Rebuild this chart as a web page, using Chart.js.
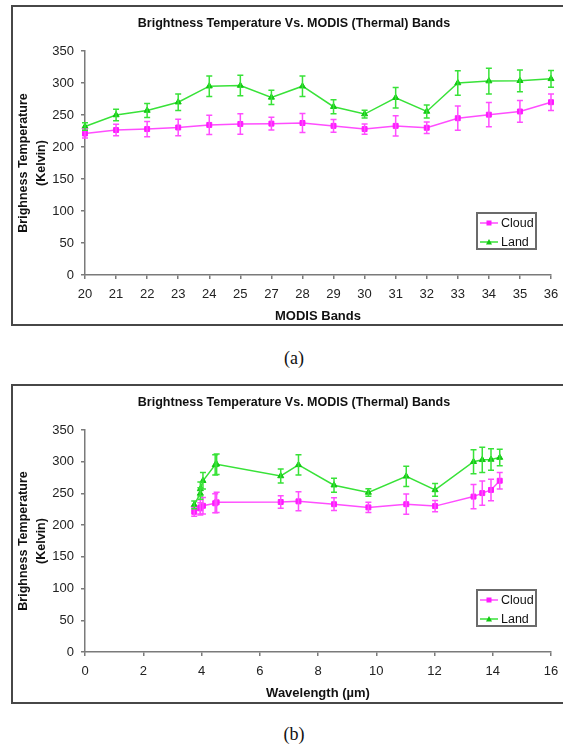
<!DOCTYPE html>
<html>
<head>
<meta charset="utf-8">
<script src="https://cdn.jsdelivr.net/npm/chart.js@4"></script>
<style>
  html, body { margin: 0; padding: 0; background: #fff; }
  #page { position: relative; width: 563px; height: 745px; overflow: hidden; background: #fff; }
  .frame { position: absolute; left: 11px; width: 620px; border: 2px solid #474747; box-sizing: border-box; }
  canvas { position: absolute; left: 0; }
  .caption { position: absolute; left: 0; width: 588px; text-align: center; font: 18px "Liberation Serif", "Times New Roman", serif; line-height: 20px; color: #111; }
</style>
</head>
<body>
<div id="page">
  <div class="frame" style="top:5px;height:321px"></div>
  <canvas id="bandChart" width="588" height="330" style="top:0"></canvas>
  <div class="caption" style="top:348px">(a)</div>

  <div class="frame" style="top:384px;height:320px"></div>
  <canvas id="waveChart" width="588" height="328" style="top:379px"></canvas>
  <div class="caption" style="top:724px">(b)</div>
</div>
<script>
const bands = ["20", "21", "22", "23", "24", "25", "27", "28", "29", "30", "31", "32", "33", "34", "35", "36"];
const wavelengths = [3.75, 3.96, 3.96, 4.05, 4.47, 4.52, 6.72, 7.33, 8.55, 9.73, 11.03, 12.02, 13.34, 13.64, 13.94, 14.24];

const cloudTemp = [221, 226.5, 228, 230.5, 234.5, 236, 236.5, 237.5, 233, 228, 233, 230, 245, 250.5, 255.5, 270];
const cloudErr = [7, 9, 12, 13, 15, 16, 10, 15, 10, 8, 16, 9, 19, 19, 17, 13];
const landTemp = [232, 250, 257, 270, 295, 296, 277.5, 295, 263, 251.5, 277, 255.5, 300, 303, 303.5, 306.5];
const landErr = [6, 9, 11, 13, 16, 16, 11, 16, 11, 6, 16, 10, 19, 20, 17, 13];

const yTicks = [0, 50, 100, 150, 200, 250, 300, 350];
const waveTicks = [0, 2, 4, 6, 8, 10, 12, 14, 16];

const FONT = "'Liberation Sans', Arial, Helvetica, sans-serif";
Chart.defaults.font.family = FONT;
Chart.defaults.color = "#111";

// error bars drawn from each dataset's "errors" list
const errorBars = {
  id: "errorBars",
  afterDatasetsDraw(chart) {
    const ctx = chart.ctx;
    const yScale = chart.scales.y;
    chart.data.datasets.forEach((ds, i) => {
      const meta = chart.getDatasetMeta(i);
      ctx.save();
      ctx.strokeStyle = ds.borderColor;
      ctx.lineWidth = 1.5;
      meta.data.forEach((pt, j) => {
        const raw = ds.data[j];
        const val = typeof raw === "object" ? raw.y : raw;
        const top = yScale.getPixelForValue(val + ds.errors[j]);
        const bot = yScale.getPixelForValue(val - ds.errors[j]);
        ctx.beginPath();
        ctx.moveTo(pt.x, top);
        ctx.lineTo(pt.x, bot);
        ctx.moveTo(pt.x - 3, top);
        ctx.lineTo(pt.x + 3, top);
        ctx.moveTo(pt.x - 3, bot);
        ctx.lineTo(pt.x + 3, bot);
        ctx.stroke();
      });
      ctx.restore();
    });
  },
};

// boxed legend in the lower right of the plot
const boxLegend = {
  id: "boxLegend",
  afterDraw(chart) {
    const { ctx, chartArea } = chart;
    const w = 59, h = 36;
    const left = chartArea.right - 15 - w;
    const top = chartArea.bottom - 26 - h;
    ctx.save();
    ctx.fillStyle = "#fff";
    ctx.fillRect(left, top, w, h);
    ctx.strokeStyle = "#6b6b6b";
    ctx.lineWidth = 2;
    ctx.strokeRect(left, top, w, h);
    chart.data.datasets.forEach((ds, i) => {
      const y = top + 10 + i * 19;
      ctx.strokeStyle = ds.borderColor;
      ctx.lineWidth = 1.5;
      ctx.beginPath();
      ctx.moveTo(left + 3, y);
      ctx.lineTo(left + 21, y);
      ctx.stroke();
      ctx.fillStyle = ds.pointBackgroundColor;
      const mx = left + 12;
      if (ds.pointStyle === "rect") {
        ctx.fillRect(mx - 2.5, y - 2.5, 5, 5);
      } else {
        ctx.beginPath();
        ctx.moveTo(mx, y - 3);
        ctx.lineTo(mx + 3, y + 2.5);
        ctx.lineTo(mx - 3, y + 2.5);
        ctx.closePath();
        ctx.fill();
      }
      ctx.fillStyle = "#111";
      ctx.font = "12.5px " + FONT;
      ctx.textBaseline = "middle";
      ctx.fillText(ds.label, left + 24, y + 0.5);
    });
    ctx.restore();
  },
};

function series(label, values, errors, color, pointColor, style, xs) {
  return {
    label: label,
    data: xs ? values.map((v, i) => ({ x: xs[i], y: v })) : values,
    errors: errors,
    borderColor: color,
    backgroundColor: pointColor,
    pointBackgroundColor: pointColor,
    pointBorderColor: pointColor,
    borderWidth: 1.5,
    pointStyle: style,
    pointRadius: 3.5,
    pointBorderWidth: 1,
    tension: 0,
  };
}

function buildChart(canvasId, xScale, xs) {
  return new Chart(document.getElementById(canvasId), {
    type: "line",
    data: {
      labels: xs ? undefined : bands,
      datasets: [
        series("Cloud", cloudTemp, cloudErr, "#ff4dff", "#ff1aff", "rect", xs),
        series("Land", landTemp, landErr, "#38e238", "#11c811", "triangle", xs),
      ],
    },
    options: {
      responsive: false,
      animation: false,
      layout: { padding: 0 },
      plugins: {
        legend: { display: false },
        tooltip: { enabled: false },
        title: {
          display: true,
          text: "Brightness Temperature Vs. MODIS (Thermal) Bands",
          font: { size: 12.5, weight: "bold" },
          color: "#111",
          padding: { top: 16.5, bottom: 19.5 },
        },
      },
      scales: {
        x: xScale,
        y: {
          min: 0,
          max: 350,
          afterBuildTicks: (s) => {
            s.ticks = yTicks.map((v) => ({ value: v }));
          },
          afterFit: (s) => {
            s.width = 85;
          },
          ticks: { font: { size: 13 }, color: "#222", padding: 7 },
          grid: { display: true, drawOnChartArea: false, tickLength: 4, color: "#7a7a7a", lineWidth: 1.5 },
          border: { color: "#7a7a7a", width: 1.5 },
          title: {
            display: true,
            text: ["Brighness Temperature", "(Kelvin)"],
            font: { size: 12.5, weight: "bold", lineHeight: 1.44 },
            color: "#111",
            padding: { top: 14.5, bottom: 0 },
          },
        },
        pad: {
          type: "linear",
          position: "right",
          grid: { display: false },
          ticks: { display: false },
          border: { display: false },
          afterFit: (s) => {
            s.width = 37;
          },
        },
      },
    },
    plugins: [errorBars, boxLegend],
  });
}

const sharedX = {
  afterFit: (s) => {
    s.height = 55;
  },
  grid: { display: true, drawOnChartArea: false, tickLength: 4, color: "#7a7a7a", lineWidth: 1.5 },
  border: { color: "#7a7a7a", width: 1.5 },
};

buildChart("bandChart", {
  ...sharedX,
  type: "category",
  offset: false,
  ticks: { font: { size: 13 }, color: "#222", padding: 8, autoSkip: false, maxRotation: 0 },
  title: {
    display: true,
    text: "MODIS Bands",
    font: { size: 13, weight: "bold" },
    color: "#111",
    padding: { top: 0, bottom: 6.2 },
  },
});

buildChart(
  "waveChart",
  {
    ...sharedX,
    type: "linear",
    min: 0,
    max: 16,
    afterBuildTicks: (s) => {
      s.ticks = waveTicks.map((v) => ({ value: v }));
    },
    ticks: { font: { size: 13 }, color: "#222", padding: 8, maxRotation: 0 },
    title: {
      display: true,
      text: "Wavelength (\u00b5m)",
      font: { size: 13, weight: "bold" },
      color: "#111",
      padding: { top: 0, bottom: 6.2 },
    },
  },
  wavelengths
);
</script>
</body>
</html>
